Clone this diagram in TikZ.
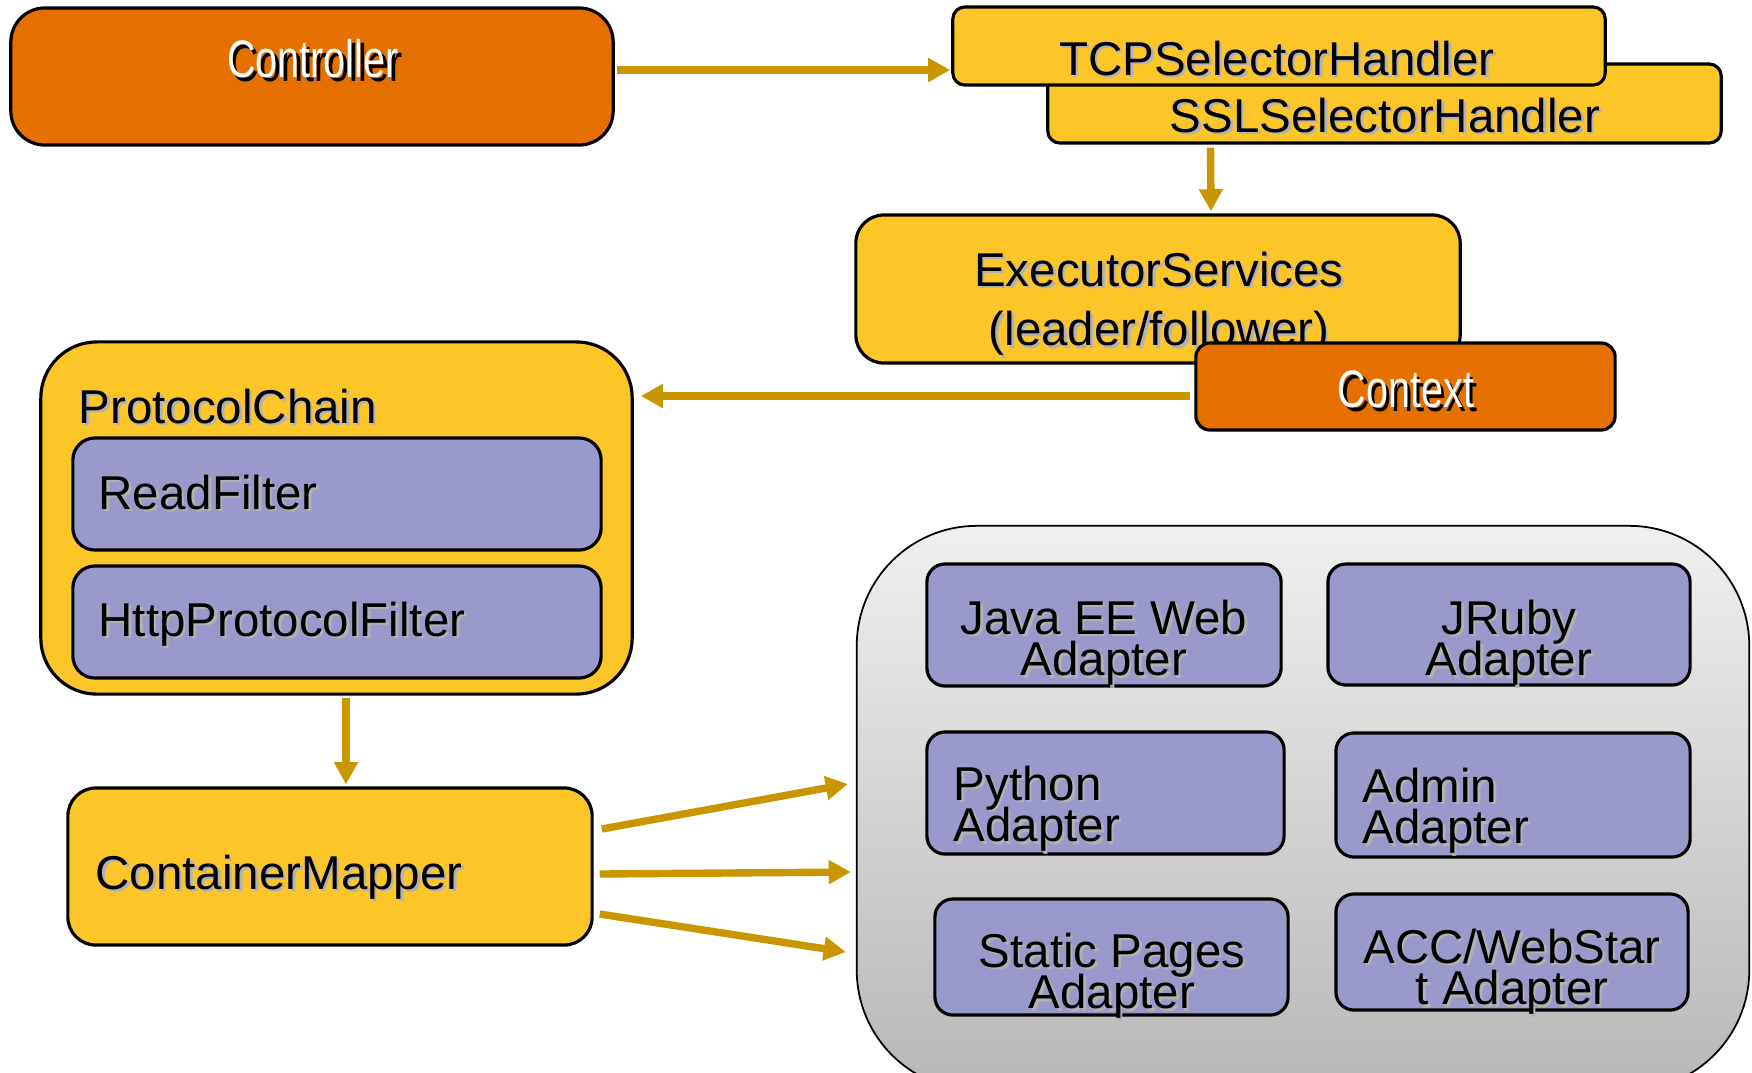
\documentclass[tikz,border=0pt]{standalone}
\usepackage{graphicx, tikz}
\usepackage{fontspec}
\setmainfont{Liberation Sans}
\usetikzlibrary{positioning}
\usetikzlibrary{calc}
\usetikzlibrary{arrows.meta}

\definecolor{grizorange}{RGB}{229,112,0}
\definecolor{grizyellow}{RGB}{253,198,40}
\definecolor{grizpurple}{RGB}{153,153,204}
\definecolor{grizarrow}{RGB}{201,150,0}

\setlength{\lineskiplimit}{-20pt}
\newcommand{\dropsh}[1]{\rlap{\hspace{0.7pt}\raisebox{-0.7pt}{\textcolor{black!30}{#1}}}#1}
\newcommand{\whitesh}[1]{\rlap{\hspace{1pt}\raisebox{-1pt}{\textcolor{black}{\scalebox{0.75}[1]{#1}}}}\scalebox{0.75}[1]{#1}}

\begin{document}
\begin{tikzpicture}[x=0.01cm, y=-0.01cm,
    box/.style={draw=black, line width=0.9pt, inner sep=0pt, rounded corners=#1},
    box/.default=3mm,
    lbl/.style={inner sep=0pt, font=\fontsize{13.5}{11.7}\selectfont, text height=9.7pt, text depth=0pt},
    lbls/.style={inner sep=0pt, font=\fontsize{13.5}{11.7}\selectfont},
    wlbl/.style={inner sep=0pt, text=white, font=\fontsize{15}{15}\selectfont, text height=10.7pt, text depth=0pt},
    arr/.style={draw=grizarrow, line width=2.1pt, -{Triangle[length=6.3pt,width=6.5pt]}}]
\useasboundingbox (0,0) rectangle (1752,1072);
\clip (0,0) rectangle (1752,1072);

\node[box=3.4mm, fill=grizorange, minimum width=6.02cm, minimum height=1.37cm] (ctrl) at (312,76.5) {};
\node[wlbl] (ctrltxt) at (313,59) {\whitesh{Controller}};

\node[box=1.2mm, fill=grizyellow, minimum width=6.73cm, minimum height=0.79cm] (ssl) at (1384.5,103.5) {};
\node[lbl] (ssltxt) at (1385,115) {\dropsh{SSLSelectorHandler}};
\node[box=1.2mm, fill=grizyellow, minimum width=6.52cm, minimum height=0.78cm] (tcp) at (1279,46) {};
\node[lbl] (tcptxt) at (1277,58) {\dropsh{TCPSelectorHandler}};

\node[box=2.8mm, fill=grizyellow, minimum width=6.04cm, minimum height=1.48cm] (exe) at (1158,289) {};
\node[lbls, align=center, font=\fontsize{13.5}{17}\selectfont] (exetxt) at (1159,305) {\dropsh{ExecutorServices}\\\dropsh{(leader/follower)}};
\node[box=1.4mm, fill=grizorange, minimum width=4.19cm, minimum height=0.87cm] (ctx) at (1405.5,386.5) {};
\node[wlbl] (ctxtxt) at (1406,389) {\whitesh{Context}};

\node[box=5.6mm, fill=grizyellow, minimum width=5.91cm, minimum height=3.52cm] (pc) at (336.5,518) {};
\node[lbl, anchor=west] (pctxt) at (78,406) {\dropsh{ProtocolChain}};
\node[box=2.2mm, fill=grizpurple, minimum width=5.28cm, minimum height=1.12cm] (rf) at (337,494) {};
\node[lbl, anchor=west] (rftxt) at (98,492) {\dropsh{ReadFilter}};
\node[box=2.2mm, fill=grizpurple, minimum width=5.28cm, minimum height=1.12cm] (hpf) at (337,622) {};
\node[lbl, anchor=west] (hpftxt) at (98,619) {\dropsh{HttpProtocolFilter}};

\node[box=2.8mm, fill=grizyellow, minimum width=5.24cm, minimum height=1.57cm] (cm) at (330,866.5) {};
\node[lbl, anchor=west] (cmtxt) at (95,872) {\dropsh{ContainerMapper}};

\node[draw=black, line width=0.5pt, rounded corners=12mm, top color=black!6, bottom color=black!28, minimum width=8.92cm, minimum height=5.64cm, inner sep=0pt] (adp) at (1303,808) {};

\node[box=1.8mm, fill=grizpurple, minimum width=3.54cm, minimum height=1.22cm] (javaee) at (1104,625) {};
\node[lbls, align=center] (javaeetxt) at (1104,644) {\dropsh{Java EE Web}\\\dropsh{Adapter}};
\node[box=1.8mm, fill=grizpurple, minimum width=3.62cm, minimum height=1.21cm] (jruby) at (1509,624.5) {};
\node[lbls, align=center] (jrubytxt) at (1509,644) {\dropsh{JRuby}\\\dropsh{Adapter}};
\node[box=1.8mm, fill=grizpurple, minimum width=3.57cm, minimum height=1.22cm] (python) at (1105.5,793) {};
\node[lbls, align=left, anchor=west] (pythontxt) at (953,810) {\dropsh{Python}\\\dropsh{Adapter}};
\node[box=1.8mm, fill=grizpurple, minimum width=3.54cm, minimum height=1.24cm] (admin) at (1513,795) {};
\node[lbls, align=left, anchor=west] (admintxt) at (1362,812) {\dropsh{Admin}\\\dropsh{Adapter}};
\node[box=1.8mm, fill=grizpurple, minimum width=3.53cm, minimum height=1.16cm] (static) at (1111.5,957) {};
\node[lbls, align=center] (statictxt) at (1112,977) {\dropsh{Static Pages}\\\dropsh{Adapter}};
\node[box=1.8mm, fill=grizpurple, minimum width=3.52cm, minimum height=1.16cm] (acc) at (1512,952) {};
\node[lbls, align=center] (acctxt) at (1512,973) {\dropsh{ACC/WebStar}\\\dropsh{t Adapter}};

\draw[arr] ($(ctrl.east)+(2,-6.5)$) -- ($(tcp.west)+(-1,24)$);
\draw[arr] ($(ssl.south)+(-174,3)$) -- ($(exe.north)+(53,-2)$);
\coordinate (ctxout) at ($(ctx.west)+(-4,9.5)$);
\draw[arr] (ctxout) -- ($(pc.east |- ctxout)+(7,0)$);
\draw[arr] ($(pc.south)+(9.5,2)$) -- ($(cm.north)+(16,-2)$);
\draw[arr] ($(cm.east)+(8,-37.5)$) -- ($(adp.west)+(-8,-24)$);
\draw[arr] ($(cm.east)+(6,7.5)$) -- ($(adp.west)+(-5,64)$);
\draw[arr] ($(cm.east)+(6,47.5)$) -- ($(adp.west)+(-10,144)$);
\end{tikzpicture}
\end{document}
